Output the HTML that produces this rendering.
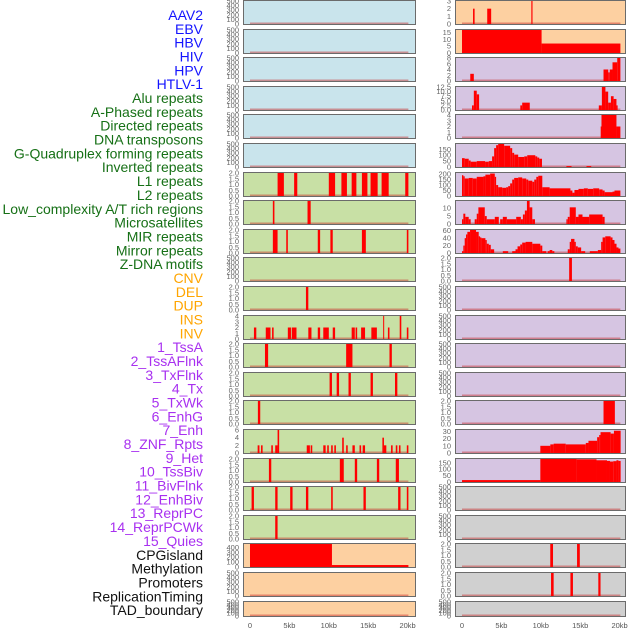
<!DOCTYPE html>
<html><head><meta charset="utf-8"><style>
html,body{margin:0;padding:0;background:#fff;width:630px;height:630px;overflow:hidden}
svg{display:block;font-family:"Liberation Sans",sans-serif}
</style></head><body>
<svg id="chart" width="630" height="630" viewBox="0 0 630 630"></svg>
<script>
// ---- data ----
const trackLabels = ["AAV2","EBV","HBV","HIV","HPV","HTLV-1","Alu repeats","A-Phased repeats","Directed repeats","DNA transposons","G-Quadruplex forming repeats","Inverted repeats","L1 repeats","L2 repeats","Low_complexity A/T rich regions","Microsatellites","MIR repeats","Mirror repeats","Z-DNA motifs","CNV","DEL","DUP","INS","INV","1_TssA","2_TssAFlnk","3_TxFlnk","4_Tx","5_TxWk","6_EnhG","7_Enh","8_ZNF_Rpts","9_Het","10_TssBiv","11_BivFlnk","12_EnhBiv","13_ReprPC","14_ReprPCWk","15_Quies","CPGisland","Methylation","Promoters","ReplicationTiming","TAD_boundary"];
const labelGroups = ["v","v","v","v","v","v","r","r","r","r","r","r","r","r","r","r","r","r","r","c","c","c","c","c","h","h","h","h","h","h","h","h","h","h","h","h","h","h","h","k","k","k","k","k"];
const xTickValues = [0,5,10,15,20];
const xTickLabels = ["0","5kb","10kb","15kb","20kb"];
const leftBg = ["b","b","b","b","b","b","g","g","g","g","g","g","g","g","g","g","g","g","g","o","o","o"];
const rightBg = ["o","o","p","p","p","p","p","p","p","p","p","p","p","p","p","p","p","y","y","y","y","y"];
const leftMax = [500,500,500,500,500,500,2,2,2,500,2,4,2,2,2,6,2,2,2,470,500,500];
const rightMax = [3,17,8,12.5,4,195,210,14.5,62,2,500,500,500,500,2,32,180,500,500,2,2,500];
const leftTicks = [[0,100,200,300,400,500],[0,100,200,300,400,500],[0,100,200,300,400,500],[0,100,200,300,400,500],[0,100,200,300,400,500],[0,100,200,300,400,500],[0,0.5,1,1.5,2],[0,0.5,1,1.5,2],[0,0.5,1,1.5,2],[0,100,200,300,400,500],[0,0.5,1,1.5,2],[0,1,2,3,4],[0,0.5,1,1.5,2],[0,0.5,1,1.5,2],[0,0.5,1,1.5,2],[0,2,4,6],[0,0.5,1,1.5,2],[0,0.5,1,1.5,2],[0,0.5,1,1.5,2],[0,100,200,300,400],[0,100,200,300,400,500],[0,100,200,300,400,500]];
const rightTicks = [[0,1,2,3],[0,5,10,15],[0,2,4,6,8],[0,2.5,5,7.5,10,12.5],[0,1,2,3,4],[0,50,100,150],[0,50,100,150,200],[0,5,10],[0,20,40,60],[0,0.5,1,1.5,2],[0,100,200,300,400,500],[0,100,200,300,400,500],[0,100,200,300,400,500],[0,100,200,300,400,500],[0,0.5,1,1.5,2],[0,10,20,30],[0,50,100,150],[0,100,200,300,400,500],[0,100,200,300,400,500],[0,0.5,1,1.5,2],[0,0.5,1,1.5,2],[0,100,200,300,400,500]];
// segments: [startKb, endKb, value]
const leftSeries = [
 [],[],[],[],[],[],
 [[3.5,4.3,2],[5.6,6.0,2],[10.0,10.8,2],[11.6,12.3,2],[12.9,13.5,2],[14.2,14.9,2],[15.3,16.2,2],[16.7,17.6,2],[19.7,20.1,2]],
 [[2.9,3.1,2],[7.3,7.7,2]],
 [[2.9,3.5,2],[4.6,4.8,2],[8.6,8.9,2],[10.2,10.5,2],[14.2,14.7,2],[19.9,20.1,2]],
 [],
 [[7.1,7.4,2]],
 [[0.5,0.8,2],[2.0,2.6,2],[2.8,3.0,2],[4.8,5.2,2],[5.3,5.9,2],[7.4,7.8,2],[8.6,8.9,2],[9.3,10.0,2],[10.5,10.8,2],[12.9,13.3,2],[13.4,13.6,2],[14.1,14.6,2],[15.4,16.1,2],[16.9,17.0,4],[17.5,17.7,2],[19.0,19.2,4],[19.9,20.1,2]],
 [[1.9,2.3,2],[12.2,13.0,2],[17.7,18.0,2]],
 [[10.1,10.4,2],[11.0,11.3,2],[12.5,12.8,2],[15.3,15.6,2],[18.4,18.7,2]],
 [[1.0,1.3,2]],
 [[0.97,1.2,2],[1.4,1.6,2],[2.7,2.9,2],[3.2,3.5,2],[3.5,3.7,6],[7.2,7.6,2],[7.7,7.9,2],[9.3,9.6,2],[9.8,10.0,2],[10.3,10.5,2],[10.7,10.9,2],[11.7,11.9,4],[12.2,12.4,2],[13.0,13.3,2],[13.9,14.1,2],[14.3,14.6,2],[16.8,17.0,4],[17.0,17.3,2],[17.9,18.1,2],[18.5,18.7,2],[18.9,19.1,2],[19.9,20.1,2]],
 [[2.4,2.7,2],[11.4,11.9,2],[13.3,13.6,2],[16.1,16.4,2],[18.5,18.9,2]],
 [[0.2,0.5,2],[3.2,3.5,2],[5.1,5.4,2],[7.1,7.4,2],[10.3,10.5,2],[14.4,14.7,2],[18.8,19.1,2],[19.9,20.1,2]],
 [[3.2,3.5,2]],
 [[0,10.4,470],[10.4,20.1,40]],
 [],[]
];
const rightSeries = [
 [[1.4,1.6,2],[3.2,3.7,2],[8.8,8.95,3]],
 [[0,10.1,17],[10.1,20.1,7]],
 [[1.05,1.5,2.5],[17.96,18.56,4],[18.56,18.75,3],[18.75,19.1,4],[19.1,19.7,6.5],[19.7,20.1,8]],
 [[1.27,1.5,2.5],[1.5,1.87,10.5],[1.87,2.17,8.5],[7.4,7.64,2.5],[7.64,8.6,4],[17.36,17.75,2.5],[17.75,18.2,12.5],[18.2,18.55,10],[18.55,18.9,4],[18.9,19.24,7.5],[19.24,19.6,6],[19.6,19.75,2.5]],
 [[17.6,17.7,2],[17.7,19.6,4],[19.6,20.1,2]],
 [[0,0.34,75],[0.34,0.85,70],[0.85,1.1,55],[1.1,1.87,45],[1.87,2.93,50],[2.93,3.4,45],[3.4,3.82,50],[3.82,4.08,90],[4.08,4.33,160],[4.33,4.59,185],[4.59,5.35,195],[5.35,6.11,180],[6.11,6.37,160],[6.37,6.62,120],[6.62,7.13,105],[7.13,7.9,85],[7.9,8.28,90],[8.28,9.3,100],[9.3,9.55,90],[9.55,9.8,80],[9.8,10.15,70],[13.25,13.9,8],[15.8,16.4,8]],
 [[0,0.17,190],[0.17,0.34,180],[0.34,0.85,160],[0.85,1.36,165],[1.36,1.87,160],[1.87,2.72,175],[2.72,2.97,180],[2.97,3.57,195],[3.57,4.16,205],[4.16,4.33,175],[4.33,4.59,100],[4.59,5.1,80],[5.1,5.6,75],[5.6,5.86,80],[5.86,6.11,90],[6.11,6.37,115],[6.37,6.62,150],[6.62,7.13,165],[7.13,7.64,170],[7.64,8.15,160],[8.15,8.41,150],[8.41,8.92,140],[8.92,9.17,130],[9.17,9.43,150],[9.43,9.68,175],[9.68,10.19,185],[10.19,11.12,80],[11.12,13.76,70],[13.76,14.01,50],[14.01,14.27,30],[14.27,14.78,55],[14.78,15.46,65],[15.46,15.97,70],[15.97,16.65,65],[16.65,17.41,70],[17.41,17.84,60],[17.84,18.1,50],[18.1,19.1,35],[19.1,19.35,40],[19.35,20.1,50]],
 [[0,0.17,3],[0.17,0.42,6.5],[0.42,0.85,4.5],[0.85,1.1,3],[1.61,1.87,3],[1.87,2.08,6.5],[2.08,2.89,10.5],[2.89,3.14,5],[3.14,4.16,3],[4.16,4.67,4.5],[4.84,5.18,3],[5.18,5.69,4.5],[5.69,6.88,3],[6.88,7.47,4.5],[7.47,7.73,3],[7.73,7.98,6],[7.98,8.24,8.5],[8.24,8.58,14.5],[8.58,8.92,10.5],[8.92,9.26,3],[13.25,13.42,3],[13.42,13.67,4.5],[13.67,14.44,10.5],[14.44,14.78,4.5],[14.78,15.29,6],[15.29,16.14,4.5],[16.14,17.84,6],[17.84,18.1,4.5]],
 [[0,0.17,5],[0.17,0.34,20],[0.34,0.51,40],[0.51,0.68,50],[0.68,1.02,57],[1.02,1.78,62],[1.78,2.12,57],[2.12,2.29,45],[2.29,2.46,42],[2.46,2.97,40],[2.97,3.14,35],[3.14,3.4,25],[3.4,3.65,22],[3.65,4.08,10],[5.18,5.86,5],[6.37,6.79,5],[6.79,7.05,10],[7.05,7.39,18],[7.39,7.64,23],[7.64,8.07,28],[8.07,8.92,30],[8.92,9.94,25],[9.94,10.19,20],[10.19,10.7,5],[10.87,11.12,5],[11.12,11.46,8],[11.46,11.72,5],[13.42,13.67,10],[13.67,13.84,30],[13.84,14.27,38],[14.27,14.44,30],[14.44,14.69,18],[14.69,15.12,15],[15.12,15.63,5],[16.22,17.24,5],[17.24,17.66,8],[17.66,17.84,30],[17.84,18.18,42],[18.18,18.86,45],[18.86,19.1,42],[19.1,19.35,35],[19.35,19.61,25],[19.61,19.86,15],[19.86,20.1,12]],
 [[13.6,13.95,2]],
 [],[],[],[],
 [[17.96,19.4,2]],
 [[9.94,11.21,10],[11.21,11.63,12],[11.63,13.16,13],[13.16,15.71,12],[15.71,16.05,14],[16.05,17.15,17],[17.15,17.41,22],[17.41,17.58,25],[17.58,18.86,29],[18.86,19.28,27],[19.28,20.13,31]],
 [[0,9.94,15],[9.94,14.54,180],[14.54,17.07,178],[17.07,18.4,170],[18.4,18.78,165],[18.78,19.2,160],[19.2,19.6,163],[19.6,19.85,170],[19.85,20.13,165]],
 [],[],
 [[11.2,11.55,2],[14.6,14.95,2]],
 [[11.3,11.63,2],[13.76,14.08,2],[17.3,17.58,2]],
 []
];

// ---- drawing ----
const NS = "http://www.w3.org/2000/svg";
const svg = document.getElementById("chart");
const bgColors = {b:"#c9e4ec",g:"#c8e0a5",o:"#fdd0a1",p:"#d6c5e2",y:"#d0d0d0"};
const labelColors = {v:"#1414ff",r:"#167016",c:"#ffa500",h:"#a830f0",k:"#111111"};
function mk(tag, attrs, parent){const e=document.createElementNS(NS,tag);for(const k in attrs)e.setAttribute(k,attrs[k]);(parent||svg).appendChild(e);return e;}
const cols = [{x0:243,x1:416,z:250,tickX:239,bg:leftBg,max:leftMax,ticks:leftTicks,series:leftSeries,name:"left"},
              {x0:455,x1:626,z:462,tickX:451,bg:rightBg,max:rightMax,ticks:rightTicks,series:rightSeries,name:"right"}];
const kbPx = 7.88;
function rowTop(i){return Math.round(i*28.6);}
function rowH(i){return i===21?16:25;}
function fmt(v,ticks){const dec=ticks.some(t=>t%1!==0)?1:0;return v.toFixed(dec);}

// labels
trackLabels.forEach((t,i)=>{
  const e=mk("text",{x:203,y:(20+i*13.84).toFixed(1),"text-anchor":"end","font-size":"14",fill:labelColors[labelGroups[i]]});
  e.textContent=t;
  
  
});

cols.forEach(c=>{
  const xs = kb => c.z + kb*kbPx;
  for(let i=0;i<22;i++){
    const top=rowTop(i), h=rowH(i), bot=top+h;
    const g=mk("g",{});
    
    
    mk("rect",{x:c.x0,y:top,width:c.x1-c.x0,height:h,fill:bgColors[c.bg[i]]},g);
    const ys = v => bot-1 - v/c.max[i]*(h-2);
    mk("rect",{x:xs(0),y:bot-2.5,width:20.1*kbPx,height:1.5,fill:"rgba(200,40,40,0.45)"},g);
    c.series[i].forEach(s=>{
      const r=mk("rect",{x:xs(s[0]).toFixed(2),y:ys(s[2]).toFixed(2),width:Math.max(1,(s[1]-s[0])*kbPx).toFixed(2),height:(bot-1-ys(s[2])).toFixed(2),fill:"#ff0000"},g);
      
      
    });
    mk("rect",{x:c.x0+0.5,y:top+0.5,width:c.x1-c.x0-1,height:h-1,fill:"none",stroke:"#6b6b6b","stroke-width":"1"},g);
    const tk=c.ticks[i];
    tk.forEach(v=>{
      const e=mk("text",{x:c.tickX,y:(ys(v)+2.5).toFixed(1),"text-anchor":"end","font-size":"7.5",fill:"#666"},g);
      e.textContent=fmt(v,tk);
    });
  }
  xTickValues.forEach((v,j)=>{
    const e=mk("text",{x:xs(v),y:628,"text-anchor":"middle","font-size":"7.5",fill:"#555"});
    e.textContent=xTickLabels[j];
    
    
  });
});
</script>
</body></html>
